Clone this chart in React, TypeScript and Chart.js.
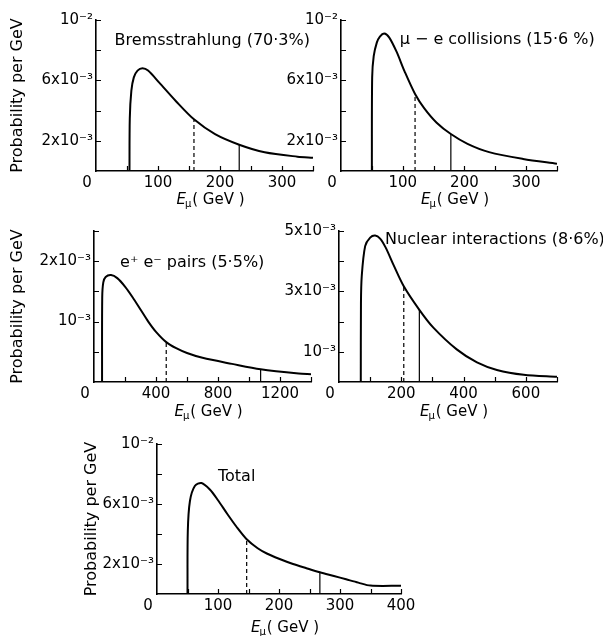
import React, { useEffect, useRef } from 'react';
import { Chart, registerables } from 'chart.js';

Chart.register(...registerables);
Chart.defaults.font.family = '"DejaVu Sans", sans-serif';
Chart.defaults.color = '#000';

// ---------- DATA (probability values in units of 10^-3 per GeV) ----------
// Bremsstrahlung (70.3%)
const bremsEnergy = [54, 54.5, 57, 61, 67, 75, 84, 102, 129, 158, 192, 231, 272, 325, 350];
const bremsProb = [0, 3.5, 5.3, 6.2, 6.65, 6.8, 6.65, 5.85, 4.62, 3.42, 2.44, 1.74, 1.24, 0.95, 0.88];
const bremsDashed = [158, 3.42];
const bremsSolid = [231, 1.74];

// mu-e collisions (15.6%)
const mueEnergy = [50, 50.5, 53, 58, 63, 70, 78, 90, 103, 120, 135, 155, 178, 205, 240, 295, 350];
const mueProb = [0, 6.2, 7.6, 8.5, 8.9, 9.1, 8.85, 7.9, 6.6, 5.1, 4.15, 3.2, 2.45, 1.8, 1.25, 0.8, 0.48];
const mueDashed = [120, 5.1];
const mueSolid = [178, 2.45];

// e+e- pairs (5.5%)
const pairEnergy = [52, 53, 60, 75, 110, 150, 200, 250, 300, 350, 400, 466, 530, 600, 700, 890, 1075, 1320, 1400];
const pairProb = [0, 1.4, 1.65, 1.74, 1.77, 1.72, 1.58, 1.4, 1.2, 1.0, 0.83, 0.66, 0.56, 0.48, 0.4, 0.3, 0.21, 0.14, 0.13];
const pairDashed = [466, 0.66];
const pairSolid = [1075, 0.21];

// Nuclear interactions (8.6%)
const nuclEnergy = [70, 70.5, 73, 84, 100, 116, 132, 150, 175, 208, 258, 303, 378, 443, 507, 593, 700];
const nuclProb = [0, 2.6, 3.5, 4.5, 4.78, 4.85, 4.75, 4.45, 3.88, 3.17, 2.39, 1.8, 1.08, 0.65, 0.4, 0.24, 0.17];
const nuclDashed = [208, 3.17];
const nuclSolid = [258, 2.39];

// Total
const totalEnergy = [50, 50.5, 54, 62, 73, 87, 100, 115, 130, 147, 165, 180, 200, 223, 245, 267, 290, 310, 330, 350, 400];
const totalProb = [0, 4.2, 6.2, 7.2, 7.4, 6.95, 6.25, 5.35, 4.5, 3.65, 3.05, 2.7, 2.35, 2.0, 1.72, 1.45, 1.2, 0.98, 0.76, 0.56, 0.55];
const totalDashed = [147, 3.65];
const totalSolid = [267, 1.45];

// Tick labels
const xLabels350 = ['0', '', '100', '', '200', '', '300', ''];
const xLabels1400 = ['0', '', '400', '', '800', '', '1200', ''];
const xLabels700 = ['0', '', '200', '', '400', '', '600', ''];
const xLabels400 = ['0', '', '100', '', '200', '', '300', '', '400'];
const yLabels10 = ['', '2x10⁻³', '', '6x10⁻³', '', '10⁻²'];
const yLabels25 = ['', '', '10⁻³', '', '2x10⁻³', ''];
const yLabels5 = ['', '10⁻³', '', '3x10⁻³', '', '5x10⁻³'];

const yTitle = 'Probability per GeV';

// ---------- PANEL CONFIG ----------
type Box = { left: number; top: number; width: number; height: number; axisW: number; axisH: number; padTop: number; padRight: number };
type Spec = {
  energy: number[]; prob: number[]; dashed: number[]; solid: number[];
  xMax: number; xStep: number; xLabels: string[];
  yMax: number; yStep: number; yLabels: string[];
  label: string; labelAt: [number, number];
  showYTitle: boolean; titleOffset: number; box: Box;
};

const panels: Spec[] = [
  {
    energy: bremsEnergy, prob: bremsProb, dashed: bremsDashed, solid: bremsSolid,
    xMax: 350, xStep: 50, xLabels: xLabels350, yMax: 10, yStep: 2, yLabels: yLabels10,
    label: 'Bremsstrahlung (70·3%)', labelAt: [30, 8.6], showYTitle: true, titleOffset: 28,
    box: { left: 0, top: 0, width: 330, height: 215, axisW: 96, axisH: 44, padTop: 20, padRight: 17 },
  },
  {
    energy: mueEnergy, prob: mueProb, dashed: mueDashed, solid: mueSolid,
    xMax: 350, xStep: 50, xLabels: xLabels350, yMax: 10, yStep: 2, yLabels: yLabels10,
    label: 'μ − e collisions (15·6 %)', labelAt: [95, 8.68], showYTitle: false, titleOffset: 28,
    box: { left: 280, top: 0, width: 323, height: 215, axisW: 61, axisH: 44, padTop: 20, padRight: 46 },
  },
  {
    energy: pairEnergy, prob: pairProb, dashed: pairDashed, solid: pairSolid,
    xMax: 1400, xStep: 200, xLabels: xLabels1400, yMax: 2.5, yStep: 0.5, yLabels: yLabels25,
    label: 'e⁺ e⁻ pairs (5·5%)', labelAt: [168, 1.97], showYTitle: true, titleOffset: 29,
    box: { left: 0, top: 210, width: 330, height: 215, axisW: 94, axisH: 43, padTop: 21, padRight: 19 },
  },
  {
    energy: nuclEnergy, prob: nuclProb, dashed: nuclDashed, solid: nuclSolid,
    xMax: 700, xStep: 100, xLabels: xLabels700, yMax: 5, yStep: 1, yLabels: yLabels5,
    label: 'Nuclear interactions (8·6%)', labelAt: [148, 4.7], showYTitle: false, titleOffset: 29,
    box: { left: 280, top: 210, width: 323, height: 215, axisW: 59, axisH: 43, padTop: 21, padRight: 46 },
  },
  {
    energy: totalEnergy, prob: totalProb, dashed: totalDashed, solid: totalSolid,
    xMax: 400, xStep: 50, xLabels: xLabels400, yMax: 10, yStep: 2, yLabels: yLabels10,
    label: 'Total', labelAt: [100, 7.8], showYTitle: true, titleOffset: 33,
    box: { left: 74, top: 424, width: 420, height: 212, axisW: 83, axisH: 42, padTop: 20, padRight: 93 },
  },
];

const FONT = '"DejaVu Sans"';

// ---------- PLUGINS ----------
const decorations = {
  id: 'decorations',
  afterDatasetsDraw(chart: any, _args: any, opts: any) {
    const { ctx, chartArea } = chart;
    const xs = chart.scales.x;
    const ys = chart.scales.y;
    ctx.save();
    // inward tick marks
    ctx.strokeStyle = '#000';
    ctx.lineWidth = 1.2;
    ctx.beginPath();
    xs.ticks.forEach((t: any) => {
      if (t.value === 0) return;
      const px = Math.round(xs.getPixelForValue(t.value)) + 0.5;
      ctx.moveTo(px, chartArea.bottom);
      ctx.lineTo(px, chartArea.bottom - 5);
    });
    ys.ticks.forEach((t: any) => {
      if (t.value === 0) return;
      const py = Math.round(ys.getPixelForValue(t.value)) + 0.5;
      ctx.moveTo(chartArea.left, py);
      ctx.lineTo(chartArea.left + 5, py);
    });
    ctx.stroke();

    ctx.fillStyle = '#000';
    // origin label, set slightly left of the axis corner
    ctx.textAlign = 'center';
    ctx.textBaseline = 'middle';
    ctx.font = `15px ${FONT}`;
    ctx.fillText(opts.originLabel, chartArea.left - 9, chartArea.bottom + 12);

    // panel label
    ctx.textAlign = 'left';
    ctx.font = `16px ${FONT}`;
    ctx.fillText(opts.text, xs.getPixelForValue(opts.at[0]), ys.getPixelForValue(opts.at[1]));

    // x-axis title E_mu (GeV)
    const cx = (chartArea.left + chartArea.right) / 2 + 6;
    const cy = chartArea.bottom + opts.titleOffset;
    ctx.textBaseline = 'alphabetic';
    const ital = `italic 15px ${FONT}`;
    const small = `10px ${FONT}`;
    const big = `15px ${FONT}`;
    ctx.font = ital; const wE = ctx.measureText('E').width;
    ctx.font = small; const wM = ctx.measureText('μ').width;
    ctx.font = big; const rest = '( GeV )'; const wR = ctx.measureText(rest).width;
    let x = cx - (wE + wM + wR) / 2;
    ctx.font = ital; ctx.fillText('E', x, cy + 5); x += wE;
    ctx.font = small; ctx.fillText('μ', x - 1, cy + 8); x += wM;
    ctx.font = big; ctx.fillText(rest, x, cy + 5);
    ctx.restore();
  },
};

function buildConfig(s: Spec): any {
  const curve = s.energy.map((e, i) => ({ x: e, y: s.prob[i] }));
  return {
    type: 'scatter',
    data: {
      datasets: [
        { data: curve, showLine: true, borderColor: '#000', borderWidth: 2, pointRadius: 0, tension: 0.3, fill: false },
        { data: [{ x: s.dashed[0], y: 0 }, { x: s.dashed[0], y: s.dashed[1] }], showLine: true, borderColor: '#000', borderWidth: 1.2, borderDash: [4, 3], pointRadius: 0 },
        { data: [{ x: s.solid[0], y: 0 }, { x: s.solid[0], y: s.solid[1] }], showLine: true, borderColor: '#000', borderWidth: 1.2, pointRadius: 0 },
      ],
    },
    options: {
      animation: false,
      responsive: false,
      devicePixelRatio: 1,
      layout: { padding: { left: 0, top: s.box.padTop, right: s.box.padRight, bottom: 0 } },
      plugins: {
        legend: { display: false },
        tooltip: { enabled: false },
        decorations: { text: s.label, at: s.labelAt, titleOffset: s.titleOffset, originLabel: s.xLabels[0] },
      },
      scales: {
        x: {
          type: 'linear', min: 0, max: s.xMax,
          ticks: { stepSize: s.xStep, autoSkip: false, maxRotation: 0, padding: 3, color: '#000', font: { size: 15 },
            callback: (_v: any, i: number) => (i === 0 ? '' : s.xLabels[i] ?? '') },
          grid: { display: false, drawTicks: false },
          border: { display: true, color: '#000', width: 1.6 },
          afterFit: (sc: any) => { sc.height = s.box.axisH; },
        },
        y: {
          type: 'linear', min: 0, max: s.yMax,
          ticks: { stepSize: s.yStep, autoSkip: false, padding: 3, color: '#000', font: { size: 15 },
            callback: (_v: any, i: number) => s.yLabels[i] ?? '' },
          grid: { display: false, drawTicks: false },
          border: { display: true, color: '#000', width: 1.6 },
          title: { display: s.showYTitle, text: yTitle, color: '#000', font: { size: 16 }, padding: { top: 8, bottom: 0 } },
          afterFit: (sc: any) => { sc.width = s.box.axisW; },
        },
      },
    },
    plugins: [decorations],
  };
}

function Panel({ spec }: { spec: Spec }) {
  const ref = useRef<HTMLCanvasElement>(null);
  useEffect(() => {
    const chart = new Chart(ref.current as HTMLCanvasElement, buildConfig(spec));
    return () => chart.destroy();
  }, [spec]);
  const b = spec.box;
  return (
    <canvas
      ref={ref}
      width={b.width}
      height={b.height}
      style={{ position: 'absolute', left: b.left, top: b.top, width: b.width, height: b.height }}
    />
  );
}

export default function App() {
  return (
    <div style={{ position: 'fixed', left: 0, top: 0, width: 603, height: 636, background: '#fff', overflow: 'hidden' }}>
      {panels.map((p, i) => (
        <Panel key={i} spec={p} />
      ))}
    </div>
  );
}
